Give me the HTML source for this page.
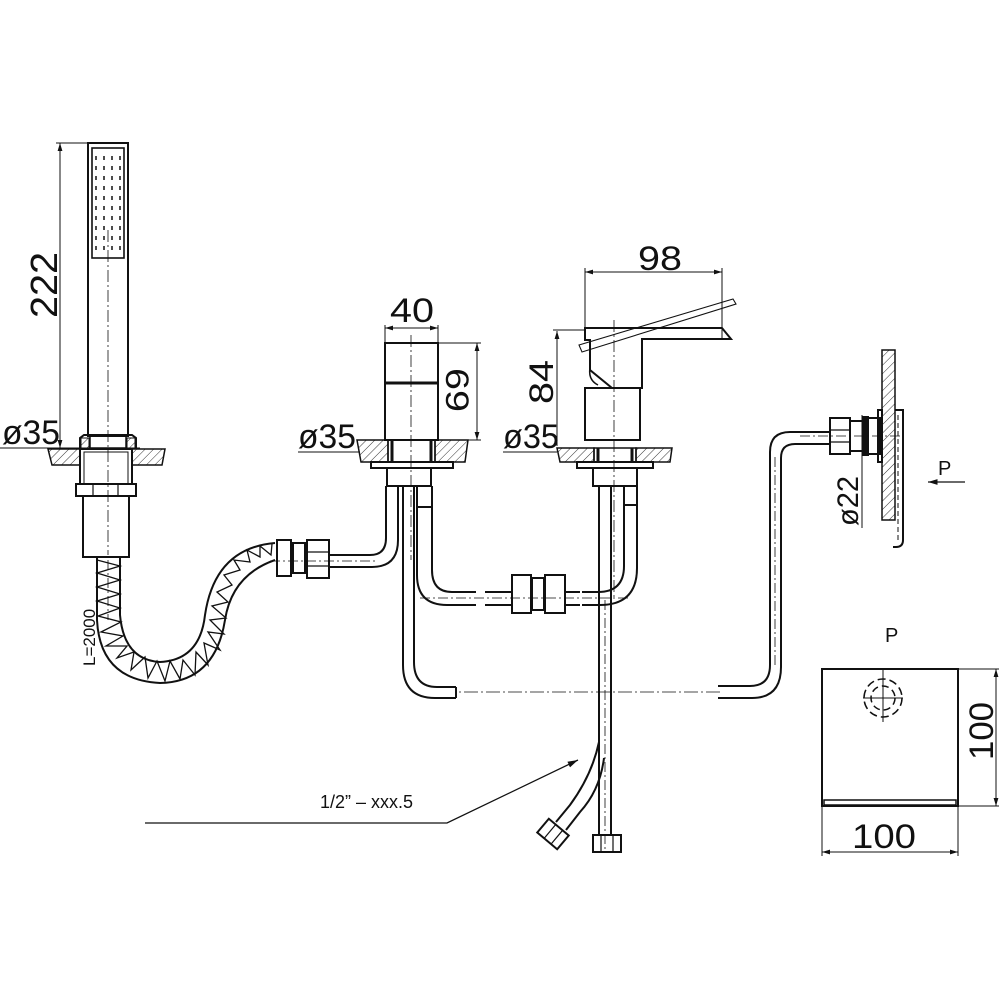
<!DOCTYPE html>
<html><head><meta charset="utf-8"><style>
html,body{margin:0;padding:0;background:#fff}
svg{display:block}
text{font-family:"Liberation Sans","DejaVu Sans",sans-serif;fill:#111}
</style></head><body>
<svg width="1000" height="1000" viewBox="0 0 1000 1000" xmlns="http://www.w3.org/2000/svg">
<defs>
<pattern id="h" width="6" height="6" patternUnits="userSpaceOnUse" patternTransform="rotate(45)">
<line x1="0" y1="0" x2="0" y2="6" stroke="#333" stroke-width="1"/>
</pattern>
<marker id="a" viewBox="0 0 10 10" refX="10" refY="5" markerWidth="8" markerHeight="8" orient="auto-start-reverse"><path d="M0,2 L10,5 L0,8z" fill="#111"/></marker>
</defs>
<g fill="none" stroke="#111" stroke-width="2">

<!-- ===== Hand shower ===== -->
<rect x="88" y="143" width="40" height="293"/>
<rect x="92" y="148" width="32" height="110" stroke-width="1.6"/>
<g stroke-width="1.5">
<path d="M96 156v4M96 166v4M96 176v4M96 186v4M96 196v4M96 206v4M96 216v4M96 226v4M96 236v4M96 246v4
M104 156v4M104 166v4M104 176v4M104 186v4M104 196v4M104 206v4M104 216v4M104 226v4M104 236v4M104 246v4
M112 156v4M112 166v4M112 176v4M112 186v4M112 196v4M112 206v4M112 216v4M112 226v4M112 236v4M112 246v4
M120 156v4M120 166v4M120 176v4M120 186v4M120 196v4M120 206v4M120 216v4M120 226v4M120 236v4M120 246v4"/>
</g>
<line x1="108" y1="230" x2="108" y2="555" stroke-width="0.8" stroke-dasharray="12 3 2 3"/>
<path d="M80 448 V438 l4 -3 H132 l4 3 V448"/>
<rect x="90" y="435" width="36" height="13" stroke-width="1.5"/>
<rect x="81" y="438" width="8" height="10" fill="url(#h)" stroke-width="1"/>
<rect x="127" y="438" width="8" height="10" fill="url(#h)" stroke-width="1"/>
<path d="M48 449 H80 V465 H52 Z" fill="url(#h)" stroke-width="1.5"/>
<path d="M132 449 H165 L162 465 H132 Z" fill="url(#h)" stroke-width="1.5"/>
<line x1="0" y1="448" x2="140" y2="448" stroke-width="1"/>
<rect x="80" y="449" width="52" height="35"/>
<rect x="84" y="452" width="44" height="32" stroke-width="1"/>
<rect x="76" y="484" width="60" height="12"/>
<line x1="93" y1="484" x2="93" y2="496" stroke-width="1.2"/><line x1="118" y1="484" x2="118" y2="496" stroke-width="1.2"/>
<rect x="83" y="496" width="46" height="61"/>
<line x1="60" y1="143" x2="60" y2="448" stroke-width="1" marker-start="url(#a)" marker-end="url(#a)"/>
<line x1="56" y1="143" x2="88" y2="143" stroke-width="1"/>

<!-- hose spring -->
<path d="M97 558 V620 Q100 680 160 683 Q215 682 225 620 Q232 575 275 560" stroke-width="2"/>
<path d="M120 558 V615 Q124 660 160 662 Q200 660 205 615 Q215 548 275 543" stroke-width="2"/>
<path d="M97 560 L120 566 L97 573 L120 580 L97 587 L120 594 L97 601 L120 608 L98 616 L121 622 L101 632 L123 636 L106 646 L127 646 L117 658 L134 652 L131 670 L145 657 L148 678 L157 661 L165 681 L170 661 L180 679 L183 660 L195 675 L196 652 L208 665 L204 643 L220 650 L208 632 L224 634 L210 620 L226 618 L212 606 L228 602 L217 592 L232 585 L224 575 L240 570 L234 560 L250 562 L247 550 L260 557 L260 546 L271 555 L272 544" stroke-width="1.3"/>
<line x1="108" y1="560" x2="108" y2="620" stroke-width="0.8" stroke-dasharray="10 3 2 3"/>
<rect x="277" y="540" width="14" height="36"/>
<rect x="293" y="543" width="12" height="30"/>
<rect x="307" y="540" width="22" height="38"/>
<line x1="307" y1="552" x2="329" y2="552" stroke-width="1.2"/><line x1="307" y1="566" x2="329" y2="566" stroke-width="1.2"/>
<path d="M329 555 H370 Q386 555 386 538 V486"/>
<path d="M329 567 H372 Q398 567 398 540 V486"/>
<line x1="270" y1="561" x2="376" y2="561" stroke-width="0.8" stroke-dasharray="10 3 2 3"/>

<!-- ===== Middle valve ===== -->
<rect x="385" y="343" width="53" height="97"/>
<line x1="385" y1="383" x2="438" y2="383" stroke-width="3"/>
<line x1="411" y1="335" x2="411" y2="560" stroke-width="0.8" stroke-dasharray="12 3 2 3"/>
<path d="M357 440 H388 V462 H361 Z" fill="url(#h)" stroke-width="1.5"/>
<path d="M435 440 H468 L465 462 H435 Z" fill="url(#h)" stroke-width="1.5"/>
<rect x="388" y="440" width="47" height="22" stroke-width="1.5"/>
<line x1="392" y1="440" x2="392" y2="462" stroke-width="3"/><line x1="431" y1="440" x2="431" y2="462" stroke-width="3"/>
<rect x="371" y="462" width="82" height="6"/>
<rect x="387" y="468" width="44" height="18"/>
<line x1="298" y1="452" x2="360" y2="452" stroke-width="1"/>
<line x1="385" y1="328" x2="438" y2="328" stroke-width="1" marker-start="url(#a)" marker-end="url(#a)"/>
<line x1="385" y1="325" x2="385" y2="343" stroke-width="1"/><line x1="438" y1="325" x2="438" y2="343" stroke-width="1"/>
<line x1="477" y1="343" x2="477" y2="440" stroke-width="1" marker-start="url(#a)" marker-end="url(#a)"/>
<line x1="438" y1="343" x2="481" y2="343" stroke-width="1"/><line x1="438" y1="440" x2="481" y2="440" stroke-width="1"/>
<path d="M403 486 V665 Q403 698 435 698 H456"/>
<path d="M414 486 V662 Q414 687 437 687 H456"/>
<line x1="456" y1="687" x2="456" y2="698"/>
<path d="M417 486 V575 Q417 605 447 605 H476"/>
<path d="M432 486 V570 Q432 592 452 592 H476"/>
<line x1="417" y1="507" x2="432" y2="507"/>
<rect x="512" y="575" width="19" height="38"/>
<rect x="532" y="578" width="12" height="32"/>
<rect x="545" y="575" width="20" height="38"/>
<line x1="485" y1="592" x2="512" y2="592"/><line x1="485" y1="605" x2="512" y2="605"/>
<line x1="565" y1="592" x2="580" y2="592"/><line x1="565" y1="605" x2="580" y2="605"/>
<path d="M582 605 H600 Q637 605 637 568 V486"/>
<path d="M582 592 H598 Q624 592 624 566 V486"/>
<line x1="624" y1="505" x2="637" y2="505"/>
<line x1="420" y1="598" x2="630" y2="598" stroke-width="0.8" stroke-dasharray="10 3 2 3"/>

<!-- ===== Right mixer ===== -->
<path d="M585 328 H722 L731 339 H642 V388 H612 L590 370 V340 H585 Z"/>
<path d="M598 385 Q588 380 590 368" stroke-width="1.5"/>
<path d="M579 345 L733 299 L736 304 L582 352 Z" stroke-width="1.1"/>
<rect x="585" y="388" width="55" height="52"/>
<line x1="614" y1="320" x2="614" y2="600" stroke-width="0.8" stroke-dasharray="12 3 2 3"/>
<path d="M557 448 H594 V462 H560 Z" fill="url(#h)" stroke-width="1.5"/>
<path d="M636 448 H672 L670 462 H636 Z" fill="url(#h)" stroke-width="1.5"/>
<rect x="594" y="448" width="42" height="14" stroke-width="1.5"/>
<line x1="598" y1="448" x2="598" y2="462" stroke-width="3"/><line x1="632" y1="448" x2="632" y2="462" stroke-width="3"/>
<rect x="577" y="462" width="76" height="6"/>
<rect x="593" y="468" width="44" height="18"/>
<line x1="503" y1="452" x2="557" y2="452" stroke-width="1"/>
<line x1="585" y1="272" x2="722" y2="272" stroke-width="1" marker-start="url(#a)" marker-end="url(#a)"/>
<line x1="585" y1="268" x2="585" y2="328" stroke-width="1"/><line x1="722" y1="268" x2="722" y2="338" stroke-width="1"/>
<line x1="557" y1="331" x2="557" y2="446" stroke-width="1" marker-start="url(#a)"/>
<line x1="553" y1="330" x2="585" y2="330" stroke-width="1"/>
<line x1="599" y1="486" x2="599" y2="835"/>
<line x1="611" y1="486" x2="611" y2="835"/>
<line x1="605" y1="600" x2="605" y2="850" stroke-width="0.8" stroke-dasharray="10 3 2 3"/>
<rect x="593" y="835" width="28" height="17"/>
<line x1="601" y1="835" x2="601" y2="852" stroke-width="1.2"/><line x1="613" y1="835" x2="613" y2="852" stroke-width="1.2"/>
<path d="M599 742 Q592 775 570 805 L556 822"/>
<path d="M604 758 Q600 790 580 812 L566 830"/>
<g transform="translate(553,834) rotate(40)"><rect x="-13" y="-9" width="26" height="18"/><line x1="-4" y1="-9" x2="-4" y2="9" stroke-width="1.2"/><line x1="5" y1="-9" x2="5" y2="9" stroke-width="1.2"/></g>
<polyline points="145,823 447,823 578,760" stroke-width="1.3" marker-end="url(#a)"/>

<!-- ===== Right wall outlet ===== -->
<line x1="720" y1="692" x2="456" y2="692" stroke-width="0.8" stroke-dasharray="14 3 2 3"/>
<path d="M718 686 H750 Q770 686 770 665 V452 Q770 432 790 432 H830"/>
<path d="M718 698 H752 Q781 698 781 667 V458 Q781 444 795 444 H830"/>
<line x1="775" y1="665" x2="775" y2="455" stroke-width="0.8" stroke-dasharray="10 3 2 3"/>
<rect x="830" y="418" width="20" height="36"/>
<line x1="830" y1="430" x2="850" y2="430" stroke-width="1.2"/><line x1="830" y1="442" x2="850" y2="442" stroke-width="1.2"/>
<rect x="850" y="421" width="13" height="30"/>
<rect x="863" y="417" width="5" height="38" fill="#111"/>
<rect x="868" y="418" width="12" height="36"/>
<rect x="878" y="410" width="4" height="52"/>
<rect x="882" y="350" width="13" height="170" fill="url(#h)" stroke-width="1.5"/>
<path d="M895 410 H903 V540 Q903 547 896 547 H893" />
<line x1="898" y1="415" x2="898" y2="540" stroke-width="1" stroke-dasharray="5 3"/>
<line x1="800" y1="436" x2="900" y2="436" stroke-width="0.8" stroke-dasharray="10 3 2 3"/>
<line x1="862" y1="415" x2="862" y2="528" stroke-width="1"/>
<line x1="965" y1="482" x2="928" y2="482" stroke-width="1.2" marker-end="url(#a)"/>

<!-- ===== P view square ===== -->
<rect x="822" y="669" width="136" height="137"/>
<rect x="824" y="800" width="132" height="5" stroke-width="1.5"/>
<circle cx="883" cy="698" r="12" stroke-width="1.5" stroke-dasharray="7 4"/>
<circle cx="883" cy="698" r="19" stroke-width="1.5" stroke-dasharray="8 4"/>
<line x1="863" y1="698" x2="903" y2="698" stroke-width="1"/>
<line x1="883" y1="668" x2="883" y2="722" stroke-width="1"/>
<line x1="958" y1="669" x2="999" y2="669" stroke-width="1"/><line x1="958" y1="806" x2="999" y2="806" stroke-width="1"/>
<line x1="996" y1="669" x2="996" y2="806" stroke-width="1" marker-start="url(#a)" marker-end="url(#a)"/>
<line x1="822" y1="806" x2="822" y2="856" stroke-width="1"/><line x1="958" y1="806" x2="958" y2="856" stroke-width="1"/>
<line x1="822" y1="852" x2="958" y2="852" stroke-width="1" marker-start="url(#a)" marker-end="url(#a)"/>
</g>

<g font-size="38">
<text x="0" y="0" transform="translate(57,318) rotate(-90)" textLength="66" lengthAdjust="spacingAndGlyphs">222</text>
<text x="2" y="444" font-size="34" textLength="58" lengthAdjust="spacingAndGlyphs">ø35</text>
<text x="298" y="448" font-size="34" textLength="58" lengthAdjust="spacingAndGlyphs">ø35</text>
<text x="503" y="448" font-size="34" textLength="56" lengthAdjust="spacingAndGlyphs">ø35</text>
<text x="390" y="322" font-size="34" textLength="44" lengthAdjust="spacingAndGlyphs">40</text>
<text x="0" y="0" font-size="32" transform="translate(446,368) rotate(90)" textLength="44" lengthAdjust="spacingAndGlyphs">69</text>
<text x="0" y="0" font-size="34" transform="translate(553,404) rotate(-90)" textLength="44" lengthAdjust="spacingAndGlyphs">84</text>
<text x="638" y="270" font-size="34" textLength="44" lengthAdjust="spacingAndGlyphs">98</text>
<text x="0" y="0" font-size="30" transform="translate(858,526) rotate(-90)" textLength="50" lengthAdjust="spacingAndGlyphs">ø22</text>
<text x="0" y="0" font-size="34" transform="translate(993,760) rotate(-90)" textLength="58" lengthAdjust="spacingAndGlyphs">100</text>
<text x="852" y="848" font-size="34" textLength="64" lengthAdjust="spacingAndGlyphs">100</text>
</g>
<text x="0" y="0" font-size="17" transform="translate(95,666) rotate(-90)">L=2000</text>
<text x="320" y="808" font-size="18">1/2”  –  xxx.5</text>
<text x="938" y="475" font-size="20">P</text>
<text x="885" y="642" font-size="20">P</text>
</svg>
</body></html>
